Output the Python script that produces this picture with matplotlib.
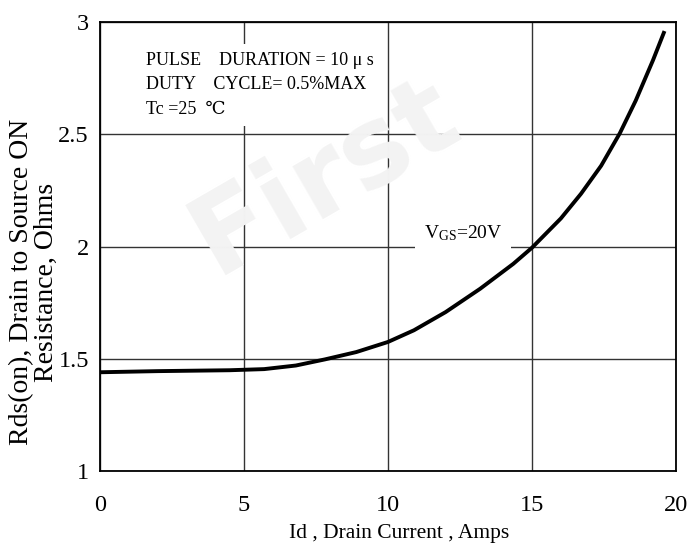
import matplotlib
matplotlib.use("Agg")
import matplotlib.pyplot as plt

# Rds(on) vs drain current, VGS = 20V
drain_current = [0, 2, 4.5, 5.7, 6.8, 7.8, 8.9, 10.0, 10.9, 12.0, 13.2, 14.35,
                 15.0, 16.0, 16.7, 17.4, 18.05, 18.6, 19.2, 19.6]
rds_on = [1.44, 1.445, 1.449, 1.454, 1.47, 1.497, 1.53, 1.575, 1.627, 1.708,
          1.812, 1.923, 1.995, 2.125, 2.235, 2.36, 2.505, 2.65, 2.83, 2.96]

x_ticks = [0, 5, 10, 15, 20]
y_ticks = [1, 1.5, 2, 2.5, 3]
y_tick_labels = ["1", "1.5", "2", "2.5", "3"]

plt.rcParams['font.family'] = ['Liberation Serif', 'DejaVu Serif']
plt.rcParams['mathtext.default'] = 'regular'

fig = plt.figure(figsize=(6.93, 5.52), dpi=100)
ax = fig.add_axes([0.1443, 0.1467, 0.8312, 0.8133])

# faint watermark in the background
fig.text(0.47, 0.68, "First", fontsize=80, fontweight='bold', family='DejaVu Sans',
         color='#f3f3f3', rotation=30, ha='center', va='center', zorder=0)
ax.patch.set_alpha(0)

ax.plot(drain_current, rds_on, color='black', linewidth=2.8, zorder=4,
        solid_joinstyle='round', solid_capstyle='butt')

ax.set_xlim(0, 20)
ax.set_ylim(1, 3)
ax.set_xticks(x_ticks)
ax.set_yticks(y_ticks)
ax.set_yticklabels(y_tick_labels)
ax.tick_params(length=0, labelsize=17.5)
ax.tick_params(axis='x', pad=17)
ax.tick_params(axis='y', pad=8)
ax.grid(True, color='#333333', linewidth=1.0)
ax.set_axisbelow(True)
for s in ax.spines.values():
    s.set_linewidth(1.3)
    s.set_color('black')
    s.set_zorder(5)

ax.set_xlabel("Id , Drain Current , Amps", fontsize=15.5)
ax.xaxis.set_label_coords(0.52, -0.118)
ax.set_ylabel("Rds(on), Drain to Source ON\nResistance, Ohms", fontsize=20,
              linespacing=0.98)
ax.yaxis.set_label_coords(-0.071, 0.421)

# test conditions
ax.text(1.6, 2.72, "PULSE    DURATION = 10 \u03bc s\nDUTY    CYCLE= 0.5%MAX\nTc =25  \u2103",
        fontsize=13, va='center', ha='left', linespacing=1.55, zorder=3,
        bbox=dict(facecolor='white', edgecolor='none', pad=6))

ax.text(12.6, 2.06, "V$_{GS}$=20V", fontsize=14, ha='center', va='center', zorder=3,
        bbox=dict(facecolor='white', edgecolor='none', pad=6))

fig.savefig("out.png", dpi=100)
